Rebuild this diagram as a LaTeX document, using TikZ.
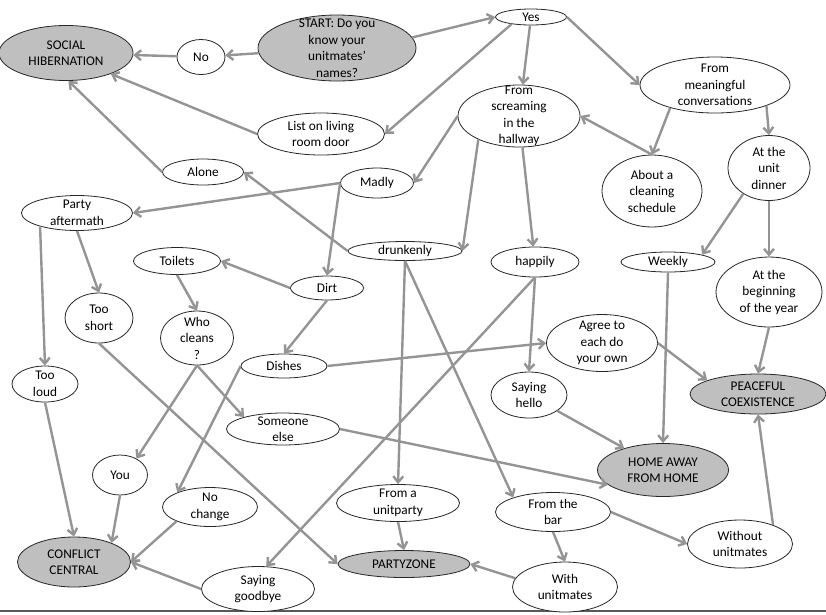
\documentclass[tikz,border=0pt]{standalone}
\usepackage{fontspec}
\setmainfont{Carlito}
\usetikzlibrary{shapes.geometric,arrows.meta}
\begin{document}
\begin{tikzpicture}[x=1pt,y=-1pt,
  bub/.style n args={3}{ellipse,draw=black!85,line width=0.8pt,fill=white,inner sep=0pt,minimum width=#1pt,minimum height=#2pt,label={[txt]center:{#3}}},
  goal/.style={fill=black!25},
  txt/.style={align=center,inner sep=0pt,font=\fontsize{13.3}{16.5}\selectfont},
  link/.style={draw=black!42,line width=2.4pt,-{Straight Barb[length=6pt,width=10pt]}}]
\useasboundingbox (0,0) rectangle (826,614);
\draw[black!65,line width=1.5pt] (0,611) -- (826,611);
\node[bub={158}{66}{START: Do you\\know your\\unitmates’\\names?},goal] (start) at (337,48) {};
\node[bub={134}{55}{SOCIAL\\HIBERNATION},goal] (social) at (66,53) {};
\node[bub={48}{35}{No}] (no) at (201,57) {};
\node[bub={71}{16}{Yes}] (yes) at (531,17) {};
\node[bub={127}{42}{List on living\\room door}] (list) at (321,134) {};
\node[bub={122}{62}{From\\screaming\\in the\\hallway}] (scream) at (519,116) {};
\node[bub={150}{56}{From\\meaningful\\conversations}] (meaning) at (715,85) {};
\node[bub={100}{72}{About a\\cleaning\\schedule}] (about) at (652,191) {};
\node[bub={82}{65}{At the\\unit\\dinner}] (dinner) at (769,168) {};
\node[bub={81}{26}{Alone}] (alone) at (203,172) {};
\node[bub={73}{30}{Madly}] (madly) at (377,183) {};
\node[bub={111}{35}{Party\\aftermath}] (party) at (77,213) {};
\node[bub={114}{19}{drunkenly}] (drunk) at (405,251) {};
\node[bub={88}{30}{happily}] (happily) at (535,262) {};
\node[bub={94}{20}{Weekly}] (weekly) at (668,262) {};
\node[bub={106}{70}{At the\\beginning\\of the year}] (begin) at (769,292) {};
\node[bub={87}{27}{Toilets}] (toilets) at (177,261) {};
\node[bub={73}{24}{Dirt}] (dirt) at (327,288) {};
\node[bub={68}{50}{Too\\short}] (short) at (99,318) {};
\node[bub={73}{54}{Who\\cleans\\?}] (who) at (197,338) {};
\node[bub={86}{24}{Dishes}] (dishes) at (284,366) {};
\node[bub={111}{57}{Agree to\\each do\\your own}] (agree) at (602,343) {};
\node[bub={66}{36}{Too\\loud}] (loud) at (45,384) {};
\node[bub={76}{46}{Saying\\hello}] (hello) at (529,395) {};
\node[bub={136}{40}{PEACEFUL\\COEXISTENCE},goal] (peace) at (758,394) {};
\node[bub={113}{32}{Someone\\else}] (someone) at (283,429) {};
\node[bub={55}{40}{You}] (you) at (120,475) {};
\node[bub={131}{53}{HOME AWAY\\FROM HOME},goal] (home) at (663,470) {};
\node[bub={95}{39}{No\\change}] (nochange) at (210,507) {};
\node[bub={123}{37}{From a\\unitparty}] (unitparty) at (398,503) {};
\node[bub={115}{39}{From the\\bar}] (bar) at (553,512) {};
\node[bub={105}{48}{Without\\unitmates}] (without) at (740,544) {};
\node[bub={113}{50}{CONFLICT\\CENTRAL},goal] (conflict) at (74,562) {};
\node[bub={132}{27}{PARTYZONE},goal] (partyzone) at (404,564) {};
\node[bub={113}{45}{Saying\\goodbye}] (goodbye) at (258,589) {};
\node[bub={105}{50}{With\\unitmates}] (with) at (565,587) {};
\draw[link] (start) -- (no);
\draw[link] (no) -- (social);
\draw[link] (start.8) -- (yes.west);
\draw[link] (yes.200) -- (list.east);
\draw[link] (yes) -- (scream);
\draw[link] (yes.east) -- (meaning.west);
\draw[link] (list.west) -- (social.-25);
\draw[link] (alone.west) -- (social.-85);
\draw[link] (scream.west) -- (madly.east);
\draw[link] (scream.210) -- (drunk.east);
\draw[link] (scream) -- (happily);
\draw[link] (meaning.207) -- (about.north);
\draw[link] (about.north) -- (scream.east);
\draw[link] (meaning.-22) -- (dinner.north);
\draw[link] (dinner.225) -- (weekly.12);
\draw[link] (dinner.south) -- (begin.north);
\draw[link] (begin.south) -- (peace.north);
\draw[link] (weekly.south) -- (home.north);
\draw[link] (madly.west) -- (party.east);
\draw[link] (madly.west) -- (dirt.north);
\draw[link] (drunk.west) -- (alone.east);
\draw[link] (drunk.south) -- (unitparty.north);
\draw[link] (drunk.south) -- (bar.160);
\draw[link] (happily.south) -- (goodbye.70);
\draw[link] (happily.south) -- (hello.north);
\draw[link] (party.south) -- (short.north);
\draw[link] (party.200) -- (loud.north);
\draw[link] (dirt.west) -- (toilets.east);
\draw[link] (dirt.south) -- (dishes.north);
\draw[link] (toilets.south) -- (who.north);
\draw[link] (who.south) -- (you.45);
\draw[link] (who.south) -- (someone.163);
\draw[link] (short.south) -- (partyzone.west);
\draw[link] (dishes.east) -- (agree.west);
\draw[link] (dishes.west) -- (nochange.156);
\draw[link] (loud.south) -- (conflict.north);
\draw[link] (you.south) -- (conflict.27);
\draw[link] (nochange.203) -- (conflict.east);
\draw[link] (goodbye.west) -- (conflict.east);
\draw[link] (someone.east) -- (home.195);
\draw[link] (hello) -- (home);
\draw[link] (agree.east) -- (peace.165);
\draw[link] (without.30) -- (peace.south);
\draw[link] (unitparty.south) -- (partyzone.north);
\draw[link] (bar.south) -- (with.north);
\draw[link] (bar.east) -- (without.west);
\draw[link] (with.170) -- (partyzone.east);
\end{tikzpicture}
\end{document}
